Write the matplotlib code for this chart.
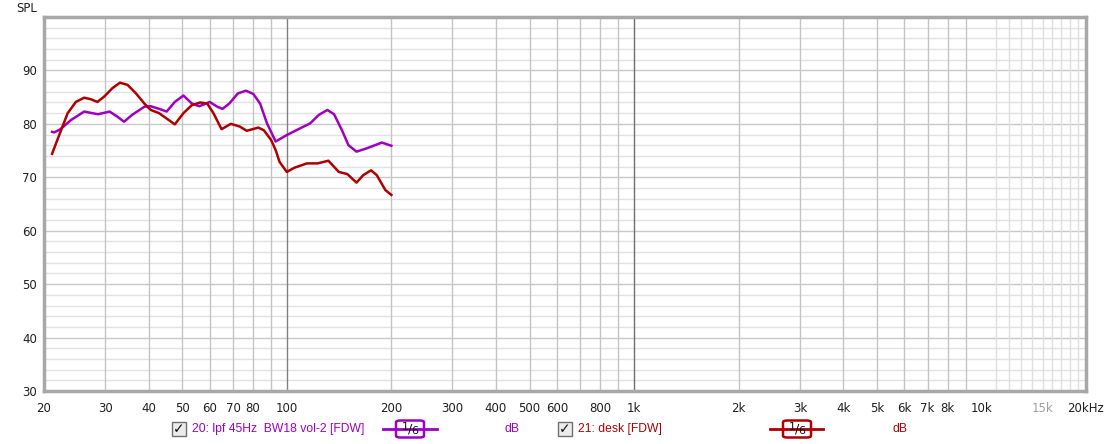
import matplotlib.pyplot as plt
from matplotlib.patches import Rectangle, FancyBboxPatch
from matplotlib.lines import Line2D

# curva 20: lpf 45Hz BW18 vol-2 (morada)
freq_lpf = [21.1, 21.4, 22.3, 23.9, 26.1, 28.6, 30.9, 32.6, 34.0, 35.9, 38.9, 40.6,
            43.4, 45.1, 47.6, 50.4, 53.3, 56.0, 60.0, 63.1, 65.3, 68.3, 72.3, 76.3,
            80.1, 83.8, 87.7, 92.9, 100, 108.0, 116.8, 123.8, 130.9, 136.8, 144.2,
            150.5, 158.8, 169.6, 187.9, 200]
spl_lpf = [78.5, 78.4, 79.0, 80.7, 82.3, 81.8, 82.3, 81.3, 80.4, 81.7, 83.2, 83.3,
           82.7, 82.3, 84.1, 85.3, 83.8, 83.3, 84.1, 83.2, 82.8, 83.8, 85.7, 86.2,
           85.6, 83.8, 80.1, 76.7, 77.9, 79.0, 80.1, 81.7, 82.6, 81.8, 78.8,
           76.0, 74.8, 75.4, 76.5, 75.9]

# curva 21: desk (roja)
freq_desk = [21.1, 22.3, 23.4, 24.7, 26.1, 27.3, 28.5, 29.8, 31.5, 33.1, 34.8, 36.8,
             38.9, 40.6, 42.9, 45.1, 47.6, 50.4, 53.3, 56.3, 59.0, 61.5, 64.9, 69.0,
             73.2, 76.7, 82.8, 85.9, 90.1, 92.9, 95.3, 100, 105.3, 114.3, 122.7,
             131.8, 141.2, 149.4, 158.8, 166.0, 174.8, 181.6, 192.3, 200]
spl_desk = [74.4, 78.5, 82.0, 84.1, 84.9, 84.6, 84.1, 85.1, 86.7, 87.7, 87.3, 85.7,
            83.8, 82.6, 82.0, 81.0, 79.9, 82.0, 83.5, 84.0, 83.8, 82.0, 79.0, 80.0,
            79.5, 78.7, 79.3, 78.8, 77.0, 75.1, 72.9, 71.0, 71.8, 72.6, 72.6,
            73.1, 71.0, 70.6, 69.0, 70.4, 71.3, 70.4, 67.6, 66.7]

xtick_vals = [20, 30, 40, 50, 60, 70, 80, 100, 200, 300, 400, 500, 600, 800,
              1000, 2000, 3000, 4000, 5000, 6000, 7000, 8000, 10000, 15000, 20000]
xtick_labels = ['20', '30', '40', '50', '60', '70', '80', '100', '200', '300', '400',
                '500', '600', '800', '1k', '2k', '3k', '4k', '5k', '6k', '7k', '8k',
                '10k', '15k', '20kHz']
ytick_vals = [30, 40, 50, 60, 70, 80, 90]

PURPLE = '#a000c0'
RED = '#b00000'

fig = plt.figure(figsize=(11.08, 4.44), dpi=100)
fig.patch.set_facecolor('white')
W, H = 1108, 444
ax = fig.add_axes([44 / W, (H - 391) / H, (1086 - 44) / W, (391 - 17) / H])
ax.set_xscale('log')
ax.set_xlim(20, 20000)
ax.set_ylim(30, 100)

# rejilla horizontal
for v in range(32, 100, 2):
    c = '#c8c8c8' if v % 10 == 0 else '#e2e2e2'
    ax.axhline(v, color=c, lw=1, zorder=1)

# rejilla vertical
for dec in [10, 100, 1000]:
    for m in range(1, 10):
        f = dec * m
        if f <= 20 or f > 10000:
            continue
        if m == 1:
            c = '#707070' if f >= 1000 else '#808080'
        else:
            c = '#c4c4c4'
        ax.axvline(f, color=c, lw=1, zorder=1)
for f in range(11000, 20000, 1000):
    ax.axvline(f, color='#e0e0e0', lw=1, zorder=1)

ax.plot(freq_lpf, spl_lpf, color=PURPLE, lw=1.8, zorder=3, solid_joinstyle='round')
ax.plot(freq_desk, spl_desk, color=RED, lw=1.8, zorder=4, solid_joinstyle='round')

ax.set_xticks(xtick_vals)
ax.set_xticklabels(xtick_labels)
ax.xaxis.set_minor_locator(plt.NullLocator())
ax.set_yticks(ytick_vals)
ax.tick_params(length=0, labelsize=8.5, colors='#202020')
ax.tick_params(axis='x', pad=8)
ax.tick_params(axis='y', pad=5)
ax.get_xticklabels()[-2].set_color('#a0a0a0')

for s in ax.spines.values():
    s.set_color('#a8a8a8')
    s.set_linewidth(2.5)

fig.text(27 / W, 1 - 9 / H, 'SPL', fontsize=8.5, ha='center', va='center', color='#202020')

# leyenda inferior
ly = 1 - 429 / H
LFONT = ['Liberation Sans', 'DejaVu Sans']


def legend_entry(x_box, x_text, label, color, x_line0, x_line1, x_frac0, x_frac1, x_db):
    fig.patches.append(Rectangle((x_box / W, ly - 7 / H), 14 / W, 14 / H,
                                 transform=fig.transFigure, facecolor='#ececec',
                                 edgecolor='#707070', lw=1))
    fig.text((x_box + 7) / W, ly, '\u2713', fontsize=10, ha='center', va='center',
             color='#101010', fontweight='bold')
    fig.text(x_text / W, ly, label, fontsize=8.7, ha='left', va='center', color=color,
             family=LFONT)
    fig.lines.append(Line2D([x_line0 / W, x_line1 / W], [ly, ly], transform=fig.transFigure,
                            color=color, lw=2))
    fig.patches.append(FancyBboxPatch((x_frac0 / W, ly - 8.5 / H), (x_frac1 - x_frac0) / W,
                                      17 / H, boxstyle='round,pad=0,rounding_size=0.004',
                                      transform=fig.transFigure, facecolor='white',
                                      edgecolor=color, lw=1.8))
    xc = (x_frac0 + x_frac1) / 2
    fig.text((xc - 4.5) / W, ly + 2 / H, '1', fontsize=8, ha='center', va='center',
             color='#101010', zorder=5)
    fig.text(xc / W, ly, '/', fontsize=9, ha='center', va='center', color='#101010',
             zorder=5)
    fig.text((xc + 4.5) / W, ly - 2 / H, '6', fontsize=8, ha='center', va='center',
             color='#101010', zorder=5)
    fig.text(x_db / W, ly, 'dB', fontsize=8.7, ha='center', va='center', color=color,
             family=LFONT)


legend_entry(172, 192, '20: lpf 45Hz  BW18 vol-2 [FDW]', PURPLE, 383, 437, 396, 424, 512)
legend_entry(558, 578, '21: desk [FDW]', RED, 770, 823, 783, 811, 900)

fig.savefig('out.png', dpi=100)
